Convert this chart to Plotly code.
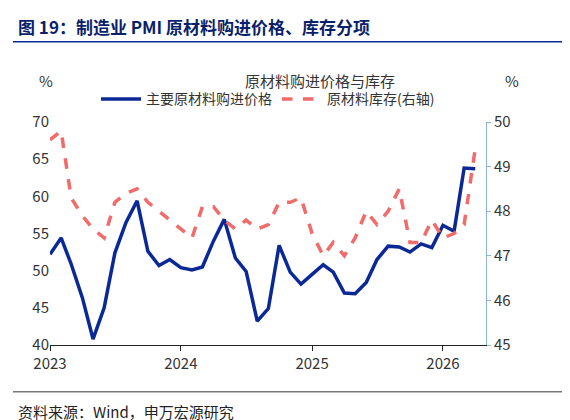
import pandas as pd
import plotly.graph_objects as go

months = pd.date_range("2023-01-01", periods=40, freq="MS")

price = [52.2, 54.4, 50.9, 46.4, 40.8, 45.0, 52.4, 56.5, 59.4, 52.6, 50.7, 51.5,
         50.4, 50.1, 50.5, 54.0, 56.9, 51.7, 49.9, 43.2, 44.9, 53.4, 49.8, 48.2,
         49.5, 50.8, 49.8, 47.0, 46.9, 48.4, 51.5, 53.3, 53.2, 52.5, 53.6, 53.1,
         56.1, 55.3, 63.8, 63.7]
stock = [49.6, 49.8, 48.3, 47.9, 47.6, 47.4, 48.2, 48.4, 48.5, 48.2, 48.0, 47.8,
         47.6, 47.4, 48.1, 48.1, 47.8, 47.6, 47.8, 47.6, 47.7, 48.2, 48.2, 48.3,
         47.5, 47.0, 47.3, 47.0, 47.4, 48.0, 47.7, 48.0, 48.5, 47.3, 47.3, 47.8,
         47.4, 47.5, 47.7, 49.4]

navy = "#0a2896"
red = "#f26b6b"
font = "Noto Sans CJK SC"

fig = go.Figure()
fig.add_trace(go.Scatter(x=months, y=price, name="主要原材料购进价格",
                         line=dict(color=navy, width=3.5)))
fig.add_trace(go.Scatter(x=months, y=stock, name="原材料库存(右轴)", yaxis="y2",
                         line=dict(color=red, width=3.5, dash="dash")))

fig.update_layout(
    width=570, height=420,
    margin=dict(l=42, r=92, t=114, b=83),
    paper_bgcolor="white", plot_bgcolor="white",
    font=dict(family=font, size=15, color="#333"),
    showlegend=True,
    legend=dict(orientation="h", x=0.5, xanchor="center", y=1.03, yanchor="bottom",
                font=dict(size=14), itemwidth=40),
    xaxis=dict(range=["2023-01-01", "2026-05-01"], showgrid=False,
               tickvals=["2023-01-01", "2024-01-01", "2025-01-01", "2026-01-01"],
               ticktext=["2023", "2024", "2025", "2026"],
               showline=True, linecolor="#222", linewidth=1, ticks="outside",
               tickcolor="#222", ticklen=5),
    yaxis=dict(range=[40, 70], dtick=5, showgrid=False, showline=False,
               ticks="", zeroline=False),
    yaxis2=dict(range=[45, 50], dtick=1, overlaying="y", side="right",
                showgrid=False, showline=True, linecolor="#8fb3d9", linewidth=1,
                ticks="outside", tickcolor="#8fb3d9", ticklen=4),
)

fig.add_annotation(text="<b>图 19：制造业 PMI 原材料购进价格、库存分项</b>", xref="paper", yref="paper",
                   x=-0.078, y=1.43, xanchor="left", yanchor="middle", showarrow=False,
                   font=dict(size=17, color="#0a1f6b"))
fig.add_shape(type="line", xref="paper", yref="paper", x0=-0.085, x1=1.21, y0=1.36, y1=1.36,
              line=dict(color="#0a2896", width=1.5))
fig.add_annotation(text="原材料购进价格与库存", xref="paper", yref="paper", x=0.62, y=1.24,
                   showarrow=False, font=dict(size=15, color="#333"))
fig.add_annotation(text="%", xref="paper", yref="paper", x=-0.03, y=1.24,
                   showarrow=False, font=dict(size=15))
fig.add_annotation(text="%", xref="paper", yref="paper", x=1.08, y=1.24,
                   showarrow=False, font=dict(size=15))
fig.add_shape(type="line", xref="paper", yref="paper", x0=-0.085, x1=1.21, y0=-0.21, y1=-0.21,
              line=dict(color="#333", width=1))
fig.add_annotation(text="资料来源：Wind，申万宏源研究", xref="paper", yref="paper",
                   x=-0.078, y=-0.3, xanchor="left", yanchor="middle", showarrow=False,
                   font=dict(size=15, color="#222"))

fig.write_html("out.html")
